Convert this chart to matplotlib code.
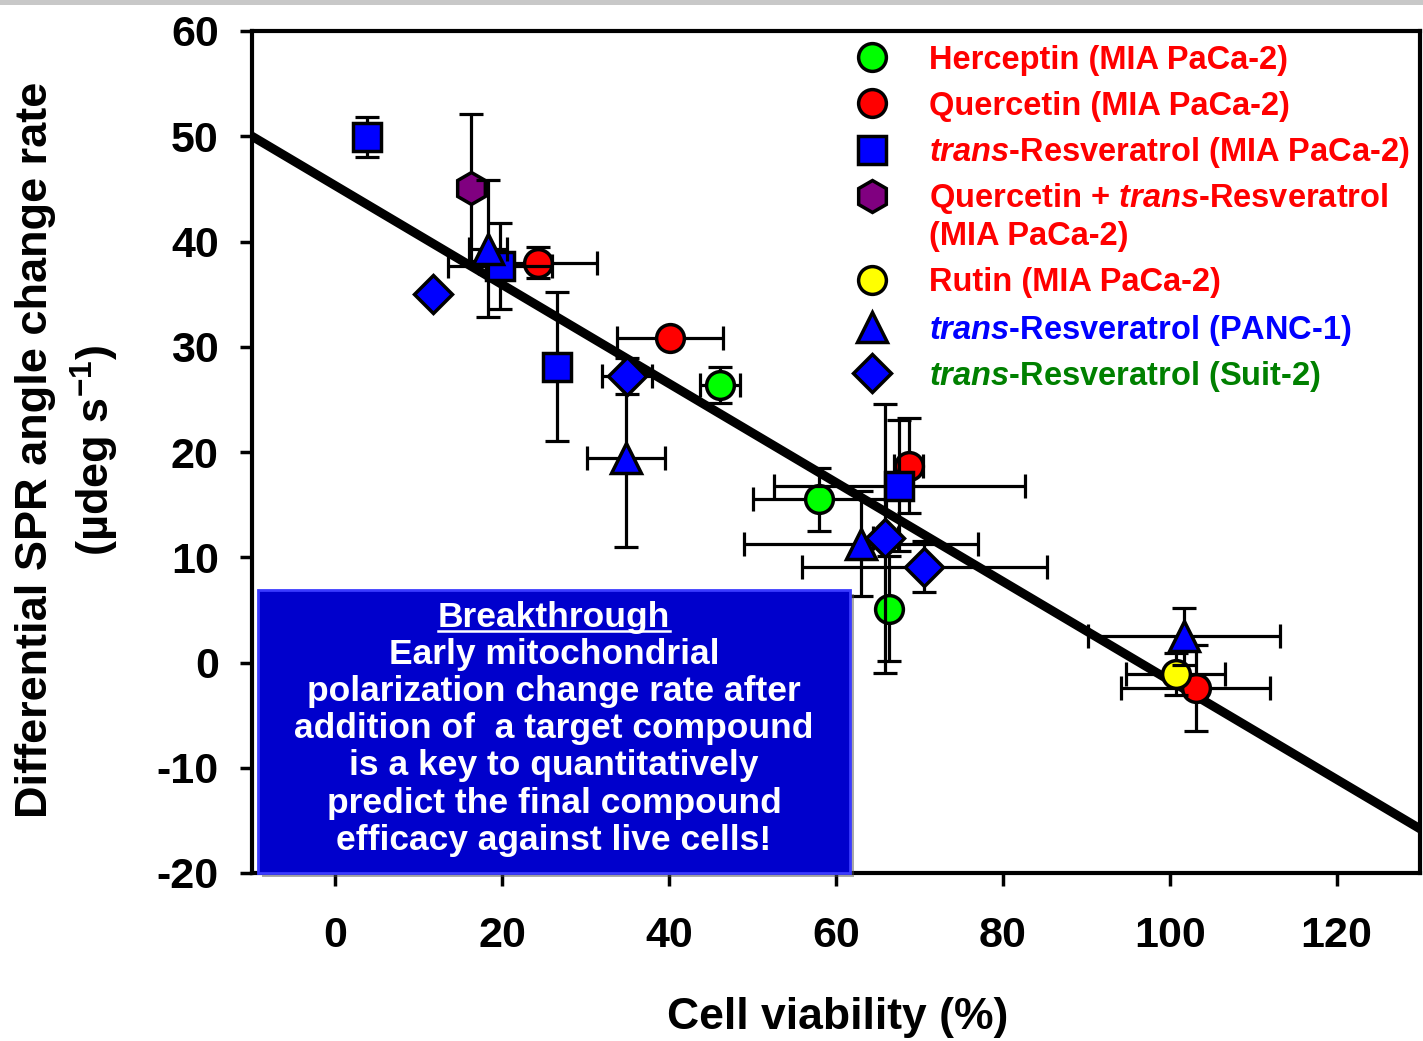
import matplotlib
matplotlib.use("Agg")
import matplotlib.pyplot as plt
from matplotlib.patches import Rectangle
from matplotlib.lines import Line2D

plt.rcParams["font.family"] = ["Liberation Sans", "DejaVu Sans"]
plt.rcParams["font.weight"] = "bold"
plt.rcParams["axes.unicode_minus"] = False
plt.rcParams["mathtext.fontset"] = "custom"
plt.rcParams["mathtext.rm"] = "Liberation Sans:bold"
plt.rcParams["mathtext.bf"] = "Liberation Sans:bold"
plt.rcParams["mathtext.it"] = "Liberation Sans:italic:bold"

# data: cell viability (%) vs differential SPR rate
herc_x = [46.1, 58.0, 66.4]
herc_y = [26.4, 15.5, 5.1]
herc_xerr = [2.4, 8.0, 0.0]
herc_yerr = [1.7, 3.0, 5.0]

quer_x = [24.3, 40.1, 68.7, 103.1]
quer_y = [38.0, 30.8, 18.7, -2.4]
quer_xerr = [7.1, 6.3, 1.7, 8.9]
quer_yerr = [1.5, 0.5, 4.5, 4.1]

resv_x = [3.8, 19.7, 26.6, 67.6]
resv_y = [49.9, 37.7, 28.1, 16.8]
resv_xerr = [0.0, 6.2, 0.0, 15.0]
resv_yerr = [1.9, 4.1, 7.1, 6.2]

combo_x = [16.3]
combo_y = [45.1]
combo_xerr = [0.0]
combo_yerr = [7.0]

rutin_x = [100.7]
rutin_y = [-1.1]
rutin_xerr = [5.9]
rutin_yerr = [2.0]

panc_x = [18.3, 34.8, 63.0, 101.7]
panc_y = [39.3, 19.4, 11.3, 2.5]
panc_xerr = [2.3, 4.7, 14.0, 11.5]
panc_yerr = [6.5, 8.4, 5.0, 2.7]

suit_x = [11.7, 35.0, 65.9, 70.6]
suit_y = [35.0, 27.2, 11.8, 9.1]
suit_xerr = [0.0, 3.0, 1.5, 14.7]
suit_yerr = [0.0, 1.7, 12.8, 2.4]

fit_slope = -0.47
fit_intercept = 45.3

W, H = 1423, 1041
fig = plt.figure(figsize=(W / 100, H / 100), dpi=100)
ax = fig.add_axes([252 / W, 1 - 873 / H, (1420 - 252) / W, (873 - 31) / H])

# thin grey strip along the top edge of the screenshot
fig.add_artist(Rectangle((0, 1 - 5 / H), 1, 5 / H, transform=fig.transFigure,
                         facecolor="#c8c8c8", edgecolor="none"))

ax.axline((0, fit_intercept), slope=fit_slope, color="black", lw=6.5, zorder=2)

series = [
    (herc_x, herc_y, herc_xerr, herc_yerr, "o", "#00ff00", 20),
    (quer_x, quer_y, quer_xerr, quer_yerr, "o", "#ff0000", 20),
    (resv_x, resv_y, resv_xerr, resv_yerr, "s", "#0000ff", 20),
    (combo_x, combo_y, combo_xerr, combo_yerr, "h", "#800080", 23),
    (rutin_x, rutin_y, rutin_xerr, rutin_yerr, "o", "#ffff00", 20),
    (panc_x, panc_y, panc_xerr, panc_yerr, "^", "#0000ff", 22),
    (suit_x, suit_y, suit_xerr, suit_yerr, "D", "#0000ff", 19),
]
for i, (x, y, xe, ye, m, c, ms) in enumerate(series):
    ax.errorbar(x, y, xerr=xe, yerr=ye, fmt="none", ecolor="black",
                elinewidth=2.3, capsize=8.5, capthick=2.3, zorder=3 + i)
    ax.plot(x, y, m, ms=ms, mfc=c, mec="black", mew=2.5, zorder=3.5 + i)

ax.set_xlim(-10, 130)
ax.set_ylim(-20, 60)
ax.set_xticks(range(0, 121, 20))
ax.set_yticks(range(-20, 61, 10))
ax.tick_params(direction="out", length=9, width=2.5, labelsize=31)
ax.tick_params(axis="x", pad=22)
ax.tick_params(axis="y", pad=15)
for s in ax.spines.values():
    s.set_linewidth(3)

ax.set_xlabel("Cell viability (%)", fontsize=32, fontweight="bold")
ax.xaxis.set_label_coords((838 - 252) / 1168, -(1018 - 873) / 842)
ax.xaxis.label.set_va("center")

fig.text(68 / W, 1 - 450 / H,
         "Differential SPR angle change rate\n(µdeg s$^{-1}$)",
         rotation=90, ha="center", va="center", ma="center",
         fontsize=32.5, fontweight="bold", linespacing=1.3)

# legend, drawn by hand
legend_rows = [
    ("o", "#00ff00", 20, "Herceptin (MIA PaCa-2)", "#ff0000", 57),
    ("o", "#ff0000", 20, "Quercetin (MIA PaCa-2)", "#ff0000", 103),
    ("s", "#0000ff", 20, r"$\mathit{trans}$-Resveratrol (MIA PaCa-2)", "#ff0000", 150),
    ("h", "#800080", 23, r"Quercetin + $\mathit{trans}$-Resveratrol", "#ff0000", 196),
    (None, None, 0, "(MIA PaCa-2)", "#ff0000", 234),
    ("o", "#ffff00", 20, "Rutin (MIA PaCa-2)", "#ff0000", 280),
    ("^", "#0000ff", 22, r"$\mathit{trans}$-Resveratrol (PANC-1)", "#0000ff", 327),
    ("D", "#0000ff", 19, r"$\mathit{trans}$-Resveratrol (Suit-2)", "#008000", 373),
]
for m, c, ms, label, tc, py in legend_rows:
    if m is not None:
        fig.add_artist(Line2D([872 / W], [1 - py / H], marker=m, ms=ms, mfc=c,
                              mec="black", mew=2.5, transform=fig.transFigure))
    fig.text(929 / W, 1 - (py + 3) / H, label, color=tc, fontsize=23.5,
             fontweight="bold", ha="left", va="center")

# blue note box
fig.add_artist(Rectangle((262 / W, 1 - 877 / H), (850 - 258) / W, (873 - 590) / H,
                         transform=fig.transFigure, facecolor="#555555",
                         edgecolor="none", alpha=0.5, zorder=4))
fig.add_artist(Rectangle((258 / W, 1 - 873 / H), (850 - 258) / W, (873 - 590) / H,
                         transform=fig.transFigure, facecolor="#0000cc",
                         edgecolor="#3a3aff", lw=2, zorder=5))
box_lines = [
    "Breakthrough",
    "Early mitochondrial",
    "polarization change rate after",
    "addition of  a target compound",
    "is a key to quantitatively",
    "predict the final compound",
    "efficacy against live cells!",
]
box_texts = []
for k, line in enumerate(box_lines):
    t = fig.text(554 / W, 1 - (617 + 37.2 * k) / H, line, color="white",
                 fontsize=25.5, fontweight="bold", ha="center", va="center",
                 zorder=6)
    box_texts.append(t)

fig.canvas.draw()
bb = box_texts[0].get_window_extent(fig.canvas.get_renderer())
uy = bb.y0 + 3
fig.add_artist(Line2D([bb.x0 / W, bb.x1 / W], [uy / H, uy / H], color="white",
                      lw=1.8, transform=fig.transFigure, zorder=6))

fig.savefig("out.png", dpi=100)
